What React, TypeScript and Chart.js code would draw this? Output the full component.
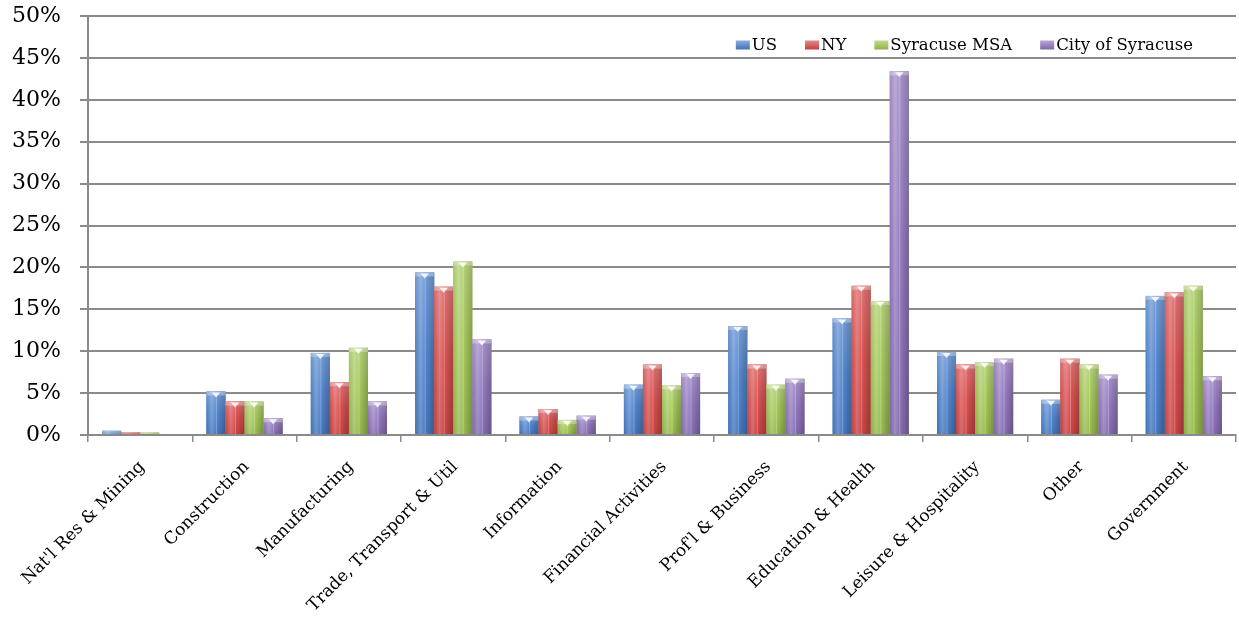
import React, { useEffect, useRef } from 'react';
import { Chart, registerables } from 'chart.js';

Chart.register(...registerables);

const categories = [
  "Nat'l Res & Mining",
  'Construction',
  'Manufacturing',
  'Trade, Transport & Util',
  'Information',
  'Financial Activities',
  "Prof'l & Business",
  'Education & Health',
  'Leisure & Hospitality',
  'Other',
  'Government',
];
const seriesNames = ['US', 'NY', 'Syracuse MSA', 'City of Syracuse'];
const usValues = [0.5, 5.2, 9.8, 19.4, 2.2, 6.0, 13.0, 13.9, 9.9, 4.2, 16.6];
const nyValues = [0.3, 4.0, 6.3, 17.7, 3.1, 8.4, 8.4, 17.8, 8.4, 9.1, 17.0];
const msaValues = [0.3, 4.0, 10.4, 20.7, 1.8, 5.9, 6.0, 16.0, 8.7, 8.4, 17.8];
const cityValues = [0, 2.0, 4.0, 11.4, 2.3, 7.4, 6.7, 43.4, 9.1, 7.2, 7.0];
const seriesColors = ['#4a80cc', '#d84848', '#a2c653', '#8f74bd'];
const yMin = 0;
const yMax = 50;
const yStep = 5;

const FONT = "'DejaVu Serif', 'Liberation Serif', serif";

function shade(hex: string, amt: number): string {
  const n = parseInt(hex.slice(1), 16);
  let r = (n >> 16) & 255, g = (n >> 8) & 255, b = n & 255;
  const f = (c: number) =>
    Math.round(amt >= 0 ? c + (255 - c) * amt : c * (1 + amt));
  r = f(r); g = f(g); b = f(b);
  return `rgb(${r},${g},${b})`;
}

const barStyle = {
  id: 'barStyle',
  afterDatasetsDraw(chart: any) {
    const ctx = chart.ctx;
    ctx.save();
    chart.data.datasets.forEach((ds: any, di: number) => {
      const meta = chart.getDatasetMeta(di);
      const col = seriesColors[di];
      meta.data.forEach((el: any) => {
        const p = el.getProps(['x', 'y', 'base', 'width'], true);
        const h = p.base - p.y;
        if (h <= 0.5) return;
        const l = p.x - p.width / 2;
        const w = p.width;
        const g = ctx.createLinearGradient(l, 0, l + w, 0);
        g.addColorStop(0, shade(col, -0.08));
        g.addColorStop(0.28, shade(col, 0.22));
        g.addColorStop(0.55, col);
        g.addColorStop(1, shade(col, -0.25));
        ctx.fillStyle = g;
        ctx.fillRect(l, p.y, w, h);
        const v = ctx.createLinearGradient(0, p.y, 0, p.base);
        v.addColorStop(0, 'rgba(255,255,255,0.22)');
        v.addColorStop(0.5, 'rgba(255,255,255,0.05)');
        v.addColorStop(1, 'rgba(0,0,0,0.06)');
        ctx.fillStyle = v;
        ctx.fillRect(l, p.y, w, h);
        if (h > 6) {
          ctx.fillStyle = 'rgba(255,255,255,0.25)';
          ctx.fillRect(l + w * 0.5, p.y + 4, 1, h - 4);
        }
        const capH = Math.min(4, h);
        ctx.fillStyle = 'rgba(255,255,255,0.3)';
        ctx.fillRect(l, p.y, w, capH);
        if (h > 4) {
          ctx.fillStyle = 'rgba(255,255,255,0.85)';
          ctx.beginPath();
          ctx.moveTo(p.x - w * 0.22, p.y + 1);
          ctx.lineTo(p.x + w * 0.22, p.y + 1);
          ctx.lineTo(p.x, p.y + Math.min(6, h));
          ctx.closePath();
          ctx.fill();
        }
      });
    });
    ctx.restore();
  },
};

const legendPlugin = {
  id: 'insideLegend',
  afterDraw(chart: any) {
    const ctx = chart.ctx;
    ctx.save();
    ctx.font = `16.5px ${FONT}`;
    ctx.textBaseline = 'middle';
    ctx.textAlign = 'left';
    const boxW = 14, boxH = 9, boxGap = 2, itemGap = 28;
    const labels = chart.data.datasets.map((d: any) => d.label);
    const widths = labels.map((t: string) => boxW + boxGap + ctx.measureText(t).width);
    const total = widths.reduce((a: number, b: number) => a + b, 0) + itemGap * (labels.length - 1);
    let x = 1193 - total;
    const cy = 45;
    labels.forEach((t: string, i: number) => {
      const col = seriesColors[i];
      const g = ctx.createLinearGradient(0, cy - boxH / 2, 0, cy + boxH / 2);
      g.addColorStop(0, shade(col, 0.35));
      g.addColorStop(1, shade(col, -0.1));
      ctx.fillStyle = g;
      ctx.fillRect(x, cy - boxH / 2, boxW, boxH);
      ctx.fillStyle = '#000';
      ctx.fillText(t, x + boxW + boxGap, cy + 1);
      x += widths[i] + itemGap;
    });
    ctx.restore();
  },
};

export default function App() {
  const ref = useRef<HTMLCanvasElement | null>(null);
  useEffect(() => {
    document.body.style.margin = '0';
    const canvas = ref.current;
    if (!canvas) return;
    const series = [usValues, nyValues, msaValues, cityValues];
    const chart = new Chart(canvas, {
      type: 'bar',
      data: {
        labels: categories,
        datasets: series.map((vals, i) => ({
          label: seriesNames[i],
          data: vals,
          backgroundColor: seriesColors[i],
          borderWidth: 0,
          barPercentage: 1.0,
          categoryPercentage: 0.73,
        })),
      },
      options: {
        responsive: false,
        animation: false,
        layout: { padding: { top: 16, right: 3, left: 0, bottom: 0 } },
        plugins: {
          legend: { display: false },
          tooltip: { enabled: false },
        },
        scales: {
          x: {
            grid: {
              offset: true,
              drawOnChartArea: false,
              drawTicks: true,
              tickLength: 7,
              color: '#8a8a8a',
              lineWidth: 1.5,
            },
            border: { color: '#8a8a8a', width: 2 },
            ticks: {
              autoSkip: false,
              minRotation: 45,
              maxRotation: 45,
              labelOffset: 2,
              padding: 15,
              color: '#000',
              font: { family: FONT, size: 17 },
            },
            afterFit(scale: any) {
              scale.height = 187;
              scale.paddingLeft = 0;
              scale.paddingRight = 0;
              scale.paddingTop = 0;
              scale.paddingBottom = 0;
            },
          },
          y: {
            min: yMin,
            max: yMax,
            ticks: {
              stepSize: yStep,
              padding: 19,
              color: '#000',
              font: { family: FONT, size: 22 },
              callback: (v: any) => `${v}%`,
            },
            grid: {
              color: '#8a8a8a',
              lineWidth: 2,
              tickLength: 8,
            },
            border: { color: '#8a8a8a', width: 2 },
            afterFit(scale: any) {
              scale.width = 88;
              scale.paddingTop = 0;
              scale.paddingBottom = 0;
            },
          },
        },
      },
      plugins: [barStyle, legendPlugin],
    });
    return () => chart.destroy();
  }, []);
  return (
    <div style={{ width: 1239, height: 622, background: '#fff' }}>
      <canvas ref={ref} width={1239} height={622} />
    </div>
  );
}
